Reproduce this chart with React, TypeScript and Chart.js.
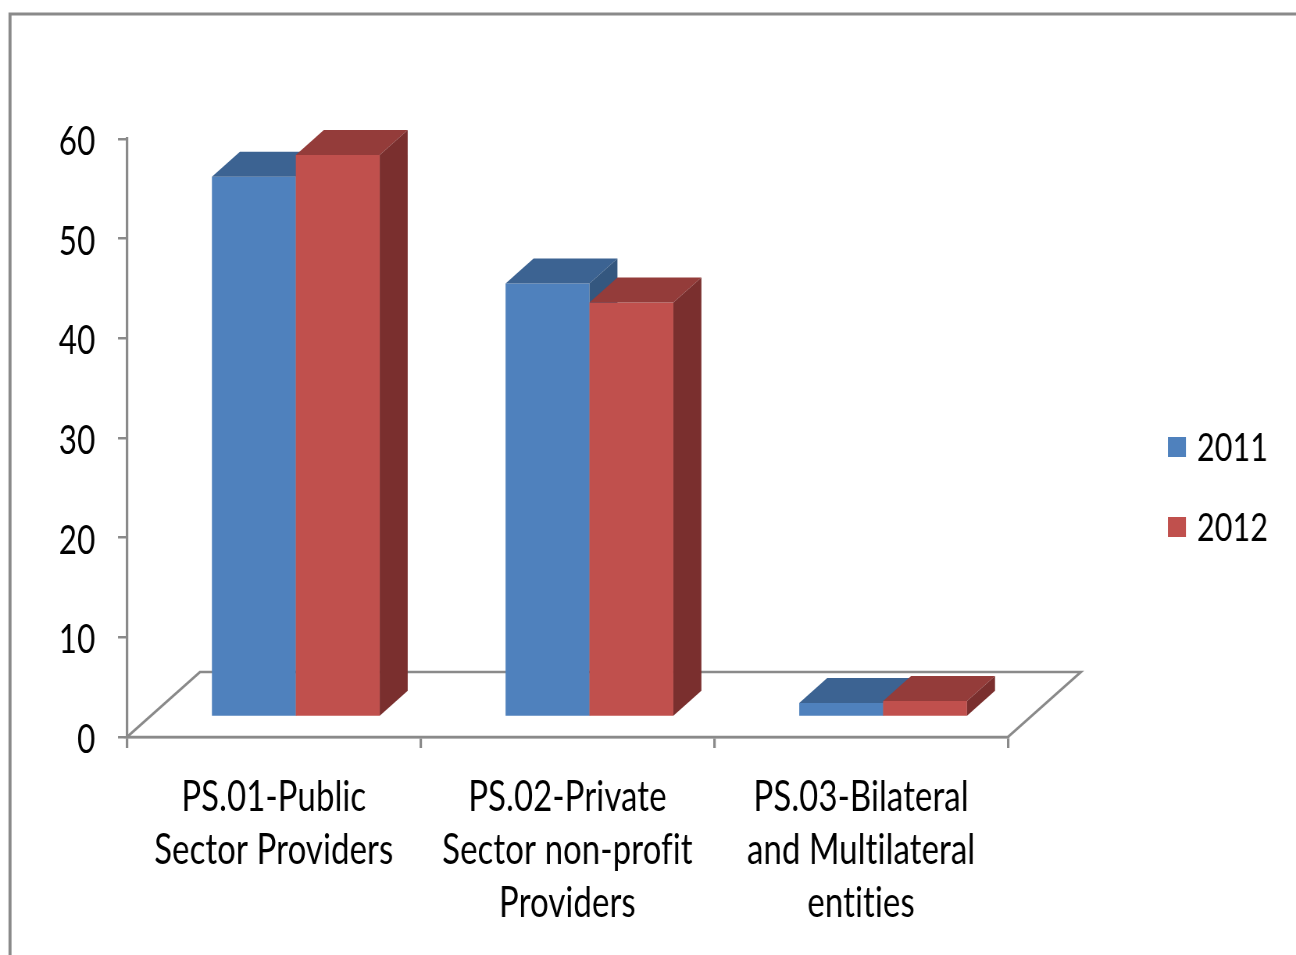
import React, { useEffect, useRef } from 'react';
import { Chart, registerables } from 'chart.js';

Chart.register(...registerables);

// ---- data ----
const categories: string[][] = [
  ['PS.01-Public', 'Sector Providers'],
  ['PS.02-Private', 'Sector non-profit', 'Providers'],
  ['PS.03-Bilateral', 'and Multilateral', 'entities'],
];
const seriesNames = ['2011', '2012'];
const values2011 = [54.2, 43.5, 1.4];
const values2012 = [56.4, 41.6, 1.6];
const yTickStep = 10;
const yMin = 0;
const yMax = 60;

// ---- styles ----
const frontColors = ['#4F81BD', '#C0504D'];
const topColors = ['#3C6392', '#943C3A'];
const sideColors = ['#34577F', '#7A2F2E'];
const axisColor = '#8a8a8a';
const FONT = 'Lato, "Open Sans", sans-serif';

const K = 1.28; // horizontal compression of the drawing (narrow text look)
const W = 1296;
const H = 955;
const CW = Math.round(W * K);

const bar3d = {
  id: 'bar3d',
  beforeDraw(chart: any) {
    const ctx = chart.ctx;
    try {
      ctx.letterSpacing = '0.2px';
    } catch (e) {
      /* ignore */
    }
    ctx.save();
    ctx.fillStyle = '#ffffff';
    ctx.fillRect(0, 0, chart.width, chart.height);
    ctx.scale(K, 1);
    ctx.strokeStyle = axisColor;
    ctx.lineWidth = 3;
    ctx.beginPath();
    ctx.moveTo(10, H + 5);
    ctx.lineTo(10, 14);
    ctx.lineTo(W + 5, 14);
    ctx.stroke();
    ctx.restore();
  },
  beforeDatasetsDraw(chart: any) {
    const ctx = chart.ctx;
    const a = chart.chartArea;
    const L = a.left / K;
    const R = a.right / K;
    const B = a.bottom;
    const fx = 73;
    const fy = 65;
    ctx.save();
    ctx.scale(K, 1);
    ctx.beginPath();
    ctx.moveTo(L, B);
    ctx.lineTo(L + fx, B - fy);
    ctx.lineTo(R + fx, B - fy);
    ctx.lineTo(R, B);
    ctx.closePath();
    ctx.fillStyle = '#ffffff';
    ctx.fill();
    ctx.strokeStyle = axisColor;
    ctx.lineWidth = 2.5;
    ctx.lineJoin = 'miter';
    ctx.stroke();
    ctx.restore();
  },
  beforeDatasetDraw() {
    return false;
  },
  afterDatasetsDraw(chart: any) {
    const ctx = chart.ctx;
    const offX = 22 * K;
    const offY = 20;
    const dX = 28 * K;
    const dY = 25;
    const n = chart.data.labels.length;
    const metas = chart.data.datasets.map((_: any, i: number) => chart.getDatasetMeta(i));
    const poly = (pts: number[][], color: string) => {
      ctx.beginPath();
      ctx.moveTo(pts[0][0], pts[0][1]);
      for (let k = 1; k < pts.length; k++) ctx.lineTo(pts[k][0], pts[k][1]);
      ctx.closePath();
      ctx.fillStyle = color;
      ctx.fill();
    };
    ctx.save();
    for (let j = 0; j < n; j++) {
      for (let i = 0; i < metas.length; i++) {
        const el = metas[i].data[j];
        const { x, y, base, width } = el.getProps(['x', 'y', 'base', 'width'], true);
        const l = x - width / 2 + offX;
        const r = x + width / 2 + offX;
        const t = y - offY;
        const b = base - offY;
        poly([[l, t], [r, t], [r, b], [l, b]], frontColors[i]);
        poly([[l, t], [l + dX, t - dY], [r + dX, t - dY], [r, t]], topColors[i]);
        poly([[r, t], [r + dX, t - dY], [r + dX, b - dY], [r, b]], sideColors[i]);
      }
    }
    ctx.restore();
  },
  afterDraw(chart: any) {
    const ctx = chart.ctx;
    ctx.save();
    const ys = [447, 527];
    chart.data.datasets.forEach((ds: any, i: number) => {
      const yc = ys[i];
      ctx.fillStyle = frontColors[i];
      ctx.fillRect(1168 * K, yc - 10, 18 * K, 20);
      ctx.fillStyle = '#000000';
      ctx.font = `39px ${FONT}`;
      ctx.textAlign = 'left';
      ctx.textBaseline = 'middle';
      ctx.fillText(ds.label, 1197 * K, yc + 1);
    });
    ctx.restore();
  },
};

export default function App() {
  const ref = useRef<HTMLCanvasElement | null>(null);
  useEffect(() => {
    const canvas = ref.current;
    if (!canvas) return;
    const chart = new Chart(canvas, {
      type: 'bar',
      data: {
        labels: categories as any,
        datasets: [
          { label: seriesNames[0], data: values2011, backgroundColor: frontColors[0] },
          { label: seriesNames[1], data: values2012, backgroundColor: frontColors[1] },
        ],
      },
      options: {
        responsive: false,
        animation: false,
        devicePixelRatio: 1,
        events: [],
        layout: { padding: { left: 0, top: 139, right: CW - 1008 * K, bottom: 0 } },
        datasets: { bar: { categoryPercentage: 168 / 294, barPercentage: 1 } } as any,
        plugins: {
          legend: { display: false },
          tooltip: { enabled: false },
        },
        scales: {
          x: {
            grid: {
              drawOnChartArea: false,
              offset: true,
              color: axisColor,
              lineWidth: 2.5 * K,
              tickLength: 11,
            },
            border: { color: axisColor, width: 2.5 },
            ticks: {
              color: '#000000',
              font: { family: FONT, size: 42, lineHeight: 1.26 },
              padding: 23,
              maxRotation: 0,
              autoSkip: false,
            },
            afterFit: (s: any) => {
              s.height = H - 737;
            },
          },
          y: {
            min: yMin,
            max: yMax,
            ticks: {
              stepSize: yTickStep,
              color: '#000000',
              font: { family: FONT, size: 40 },
              padding: 29,
              labelOffset: 3,
            },
            grid: {
              drawOnChartArea: false,
              color: axisColor,
              lineWidth: 2.5,
              tickLength: 9 * K,
            },
            border: { color: axisColor, width: 2.5 * K },
            afterFit: (s: any) => {
              s.width = 127 * K;
            },
          },
        },
      },
      plugins: [bar3d as any],
    });
    return () => chart.destroy();
  }, []);

  return (
    <div style={{ position: 'absolute', left: 0, top: 0, width: W, height: H, overflow: 'hidden', background: '#fff' }}>
      <canvas
        ref={ref}
        width={CW}
        height={H}
        style={{ width: `${W}px`, height: `${H}px`, display: 'block' }}
      />
    </div>
  );
}
